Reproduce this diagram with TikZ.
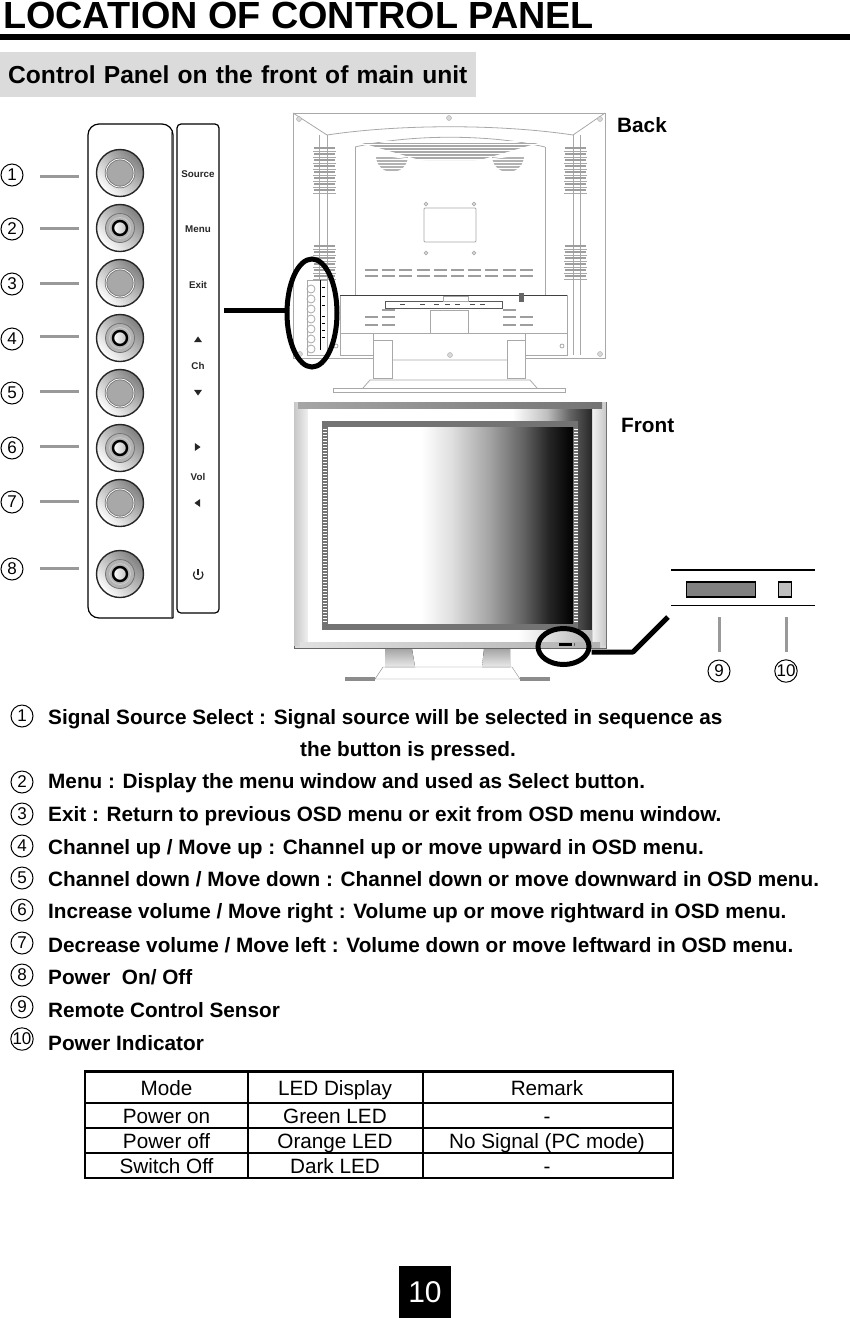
\documentclass[tikz,border=0pt]{standalone}
\usepackage{fontspec}
\setmainfont{Liberation Sans}
\usetikzlibrary{shapes.geometric}
\definecolor{btngrey}{HTML}{A8A8A8}
\definecolor{leadgrey}{HTML}{999999}
\definecolor{sketchgrey}{HTML}{A8A8A8}
\pgfdeclarehorizontalshading{screenfade}{100bp}{color(0bp)=(white);color(25bp)=(white);color(44bp)=(white);color(50bp)=(black!12);color(58bp)=(black!36);color(65bp)=(black!62);color(70bp)=(black!85);color(75bp)=(black);color(100bp)=(black)}
\pgfdeclarehorizontalshading{bezelfade}{100bp}{color(0bp)=(white);color(25bp)=(white);color(61bp)=(white);color(67bp)=(black!25);color(71bp)=(black!60);color(75bp)=(black!85);color(100bp)=(black!85)}
\pgfdeclarehorizontalshading{sillfade}{100bp}{color(0bp)=(white);color(25bp)=(white);color(62bp)=(white);color(75bp)=(black!30);color(100bp)=(black!30)}
\tikzset{
  numcirc/.style={circle,draw=black,line width=1pt,minimum size=22,inner sep=0,font=\fontsize{17}{17}\selectfont},
  bodytext/.style={anchor=base west,inner sep=0,font=\bfseries\fontsize{20.75}{24}\selectfont},
  tablecell/.style={anchor=base,inner sep=0,font=\fontsize{20.7}{24}\selectfont},
  striptext/.style={inner sep=0,text=black!85,font=\bfseries\fontsize{9.8}{12}\selectfont},
  striptip/.style={isosceles triangle,isosceles triangle apex angle=70,fill=black!85,inner sep=0,minimum size=5.6},
  leader/.style={leadgrey,line width=3pt},
  pointer/.style={line width=5pt,black},
  hoop/.style={ellipse,draw=black,line width=5pt,inner sep=0},
  sketch/.style={sketchgrey,line width=.8pt},
  vent/.style={black!38,line width=1.5pt},
  btn/.style={circle,draw=black!85,line width=1.4pt,minimum size=47,inner sep=0,shading=axis,left color=white,right color=black!50,shading angle=135},
  btnface/.style={circle,draw=black!55,line width=.8pt,fill=btngrey,double=white,double distance=.8pt,minimum size=28,inner sep=0},
  btnrim/.style={circle,draw=black!55,line width=.8pt,fill=black!30,minimum size=29,inner sep=0},
  btnknob/.style={circle,draw=black,line width=2.4pt,shading=axis,left color=white,right color=black!25,minimum size=14,inner sep=0}
}
\begin{document}
\begin{tikzpicture}[x=1pt,y=-1pt]
  \useasboundingbox (0,0) rectangle (850,1318);
  % heading
  \node (title) [anchor=base west,inner sep=0,font=\bfseries\fontsize{37.8}{40}\selectfont] at (3,28.5) {LOCATION OF CONTROL PANEL};
  \fill[black] (0,34) rectangle (850,40);
  \node (sub) [anchor=west,inner sep=0,fill=black!14,minimum height=45,text width=476,align=left,font=\bfseries\fontsize{24.6}{28}\selectfont] at (0,74.5) {\hspace*{8pt}Control Panel on the front of main unit};
  % control panel
  \draw[black,line width=1.2pt,rounded corners=11] (173,618) -- (88,618) -- (88,124) -- (173,124) -- (173,618);
  \draw[black!50,line width=1pt] (171.5,132) -- (171.5,617);
  \draw[black,line width=1.2pt,rounded corners=4] (177,124) rectangle (219,613);
  \begin{scope}[every node/.style={btn}]
    \node (b1) at (120,173) {};
    \node (b2) at (120,228) {};
    \node (b3) at (120,283) {};
    \node (b4) at (120,338) {};
    \node (b5) at (120,393) {};
    \node (b6) at (120,448) {};
    \node (b7) at (120,503) {};
    \node (b8) at (120,574) {};
  \end{scope}
  \foreach \n in {b1,b3,b5,b7} \node[btnface] at (\n) {};
  \foreach \n in {b2,b4,b6,b8} {
    \node[btnrim] at (\n) {};
    \draw[black!20,line width=.8pt] (\n) circle (10.5);
    \node[btnknob] at (\n) {};
  }
  \begin{scope}[every node/.style={striptext}]
    \node (source) at (198,174) {Source};
    \node (menu) at (198,229) {Menu};
    \node (exit) at (198,285) {Exit};
    \node (ch) at (198,366) {Ch};
    \node (vol) at (198,477) {Vol};
  \end{scope}
  \node[striptip,rotate=90] (chup) at (198,340) {};
  \node[striptip,rotate=-90] (chdown) at (198,392) {};
  \node[striptip] (volup) at (197,447) {};
  \node[striptip,rotate=180] (voldown) at (198,503) {};
  \draw[black!85,line width=1.2pt] (198,569) -- (198,575);
  \draw[black!85,line width=1.2pt] (194.5,571.5) arc[start angle=220,end angle=-40,radius=4.8];
  \begin{scope}[every node/.style={numcirc}]
    \node (n1) at (12,175) {1};
    \node (n2) at (12,229) {2};
    \node (n3) at (12,284) {3};
    \node (n4) at (12,339) {4};
    \node (n5) at (12,393) {5};
    \node (n6) at (12,448) {6};
    \node (n7) at (12,502) {7};
    \node (n8) at (12,569) {8};
    \node (n9) at (719,671) {9};
    \node (n10) at (786,671) {10};
    \node (k1) at (22,716) {1};
    \node (k2) at (22,782) {2};
    \node (k3) at (22,814) {3};
    \node (k4) at (22,846) {4};
    \node (k5) at (22,878) {5};
    \node (k6) at (22,910) {6};
    \node (k7) at (22,943) {7};
    \node (k8) at (22,975) {8};
    \node (k9) at (22,1007) {9};
    \node (k10) at (22,1039) {10};
  \end{scope}
  \foreach \y in {176,228,283,336,391,446,501,568} \draw[leader] (40,\y) -- (79,\y);
  % back of the monitor
  \draw[sketch] (293,113) rectangle (605,358);
  \draw[sketch] (293,113) -- (327,135) (605,113) -- (573,135);
  \draw[sketch] (327,135) .. controls (400,124) and (500,124) .. (573,135);
  \draw[sketch] (355,147) .. controls (410,134) and (490,134) .. (545,147);
  \draw[sketch] (355,147) -- (355,295) (545,147) -- (545,295);
  \draw[sketch] (319,135) -- (319,355) (327,135) -- (327,355) (573,135) -- (573,355) (580,135) -- (580,355);
  \fill[black!30] (376,156) arc[start angle=180,end angle=0,radius=16] -- cycle;
  \fill[black!30] (492,156) arc[start angle=180,end angle=0,radius=16] -- cycle;
  \fill[black!34] (362,143) -- (538,143) -- (480,160) -- (420,160) -- cycle;
  \foreach \y in {141.5,144.5,...,174} \draw[white,line width=.5pt] (362,\y) -- (538,\y);
  \draw[white,line width=1.2pt] (376,154) -- (430,162) (524,154) -- (470,162);
  \foreach \y in {148,154,...,193} {
    \draw[vent] (314,\y) -- (335,\y) (565,\y) -- (586,\y);
    \draw[sketch] (313,\y+3) -- (336,\y+3) (564,\y+3) -- (587,\y+3);
  }
  \foreach \y in {246,252,...,276} {
    \draw[vent] (314,\y) -- (335,\y) (565,\y) -- (586,\y);
    \draw[sketch] (313,\y+3) -- (336,\y+3) (564,\y+3) -- (587,\y+3);
  }
  \draw[sketch,rounded corners=1] (424,208) rectangle (476,242);
  \foreach \x/\y in {426/204,474/204,426/253,474/253} \draw[sketch] (\x,\y) circle (1.8);
  \foreach \x in {365,382.2,...,520} \draw[vent] (\x,270) -- +(13,0) (\x,276) -- +(13,0);
  \foreach \x in {365,382} \draw[vent] (\x,317) -- +(13,0) (\x,325) -- +(13,0);
  \foreach \x in {503,520} \draw[vent] (\x,317) -- +(13,0) (\x,325) -- +(13,0);
  \draw[vent] (382,310) -- +(13,0) (503,310) -- +(13,0);
  \draw[sketch] (340,295) rectangle (567,355);
  \draw[black!75,line width=1pt] (340,295) -- (567,295);
  \draw[black!65,line width=.9pt] (385,301) rectangle (502,308);
  \foreach \x in {400,420,434,445,455,470,480} \fill[black!70] (\x,303.5) rectangle +(5,1.5);
  \draw[sketch] (443,296) rectangle +(25,5);
  \fill[black!60] (519,293) rectangle (524,302);
  \draw[sketch] (430,310) rectangle (468,333);
  \draw[sketch] (341,333) -- (567,333);
  \fill[white] (373,333) rectangle (525,377);
  \draw[sketch] (373,333) -- (525,333) (373,333) -- (373,378) (525,333) -- (525,378);
  \draw[sketch] (373,340) rectangle (392,378);
  \draw[sketch] (507,340) rectangle (525,378);
  \draw[sketch] (392,360) -- (507,360) (363,388) -- (370,380) -- (530,380) -- (537,388);
  \draw[sketch] (333,388) rectangle (565,392);
  \foreach \x/\y in {299/119,449/118,600/119,450/355,300/354,600/354} \filldraw[draw=sketchgrey,fill=black!15] (\x,\y) circle (2.5);
  \foreach \x/\y in {336/346,562/346} \draw[sketch] (\x,\y) circle (2);
  \fill[white] (307,280) rectangle (327,355);
  \draw[sketch] (307,280) rectangle (327,355);
  \foreach \y in {289,299,...,339,349} \draw[sketch] (311,\y) circle (4);
  \draw[black,line width=.8pt] (320,280) -- (320,350);
  \foreach \y in {287,296,305,316,323,330,337} \fill[black] (322,\y) rectangle +(3,1);
  \node[hoop,minimum width=50,minimum height=108] (backring) at (312,313) {};
  \coordinate (panelend) at (224,310);
  \draw[pointer] (panelend) -- (panelend -| backring.west);
  \node (backlabel) [anchor=west,inner sep=0,font=\bfseries\fontsize{20.75}{24}\selectfont] at (617,125) {Back};
  % front of the monitor
  \fill[black!15] (294,402) rectangle (606,648);
  \draw[black!60,line width=.8pt] (294,402) rectangle (606,648);
  \fill[left color=black!22,right color=black!6] (294,402) rectangle (308,645);
  \fill[left color=black!5,right color=black!22] (592,402) rectangle (606,645);
  \shade[shading=bezelfade] (308,408) rectangle (592,642);
  \shade[shading=sillfade] (308,630) rectangle (592,642);
  \fill[left color=black!35,right color=black!55] (298,402) rectangle (602,408);
  \fill[black!55] (322,421) rectangle (578,630);
  \shade[shading=screenfade] (328,427) rectangle (573,623);
  \foreach \y in {429,432,...,621} {
    \draw[white,line width=.9pt] (323,\y) -- (327,\y);
    \draw[white,line width=.9pt] (574,\y) -- (577.5,\y);
  }
  \fill[left color=black!12,right color=black!30] (300,642) rectangle (600,647);
  \fill[top color=black!35,bottom color=black!8] (385,649) -- (412,649) -- (415,667) -- (385,667) -- cycle;
  \fill[top color=black!35,bottom color=black!8] (484,649) -- (510,649) -- (510,667) -- (482,667) -- cycle;
  \draw[black!50] (375,679) -- (383,667) -- (512,667) -- (520,679) -- cycle;
  \fill[black!45] (345,676.5) rectangle (375,681);
  \fill[black!45] (520,676.5) rectangle (550,681);
  \fill[black] (559,643) rectangle (572,646);
  \fill[black!60] (574,643) rectangle (575,646);
  \node[hoop,minimum width=51,minimum height=36] (frontring) at (563.5,646.5) {};
  \coordinate (bendfront) at (633,652);
  \coordinate (zoomend) at (668,617);
  \draw[pointer,line join=bevel] (bendfront -| frontring.east) -- (bendfront) -- (zoomend);
  \node (frontlabel) [anchor=west,inner sep=0,font=\bfseries\fontsize{20.75}{24}\selectfont] at (621,425) {Front};
  % detail of sensor and lamp
  \draw[black,line width=2pt] (671,570) -- (815,570);
  \draw[black,line width=1pt] (671,605) -- (815,605);
  \node (sensor) [draw=black,line width=1.5pt,fill=black!50,minimum width=69,minimum height=15,inner sep=0] at (721,589.5) {};
  \node (lamp) [draw=black,line width=1.5pt,fill=black!25,minimum width=13,minimum height=15,inner sep=0] at (785,589.5) {};
  \coordinate (sensorlead) at (719,617);
  \coordinate (lamplead) at (786,617);
  \draw[leader] (sensorlead) -- ++(0,35);
  \draw[leader] (lamplead) -- ++(0,35);
  % key to the numbers
  \begin{scope}[every node/.style={bodytext}]
    \node (t1) at (48,724) {Signal Source Select : Signal source will be selected in sequence as};
    \node (t1b) at (300,756) {the button is pressed.};
    \node (t2) at (48,788) {Menu : Display the menu window and used as Select button.};
    \node (t3) at (48,821) {Exit : Return to previous OSD menu or exit from OSD menu window.};
    \node (t4) at (48,854) {Channel up / Move up : Channel up or move upward in OSD menu.};
    \node (t5) at (48,886) {Channel down / Move down : Channel down or move downward in OSD menu.};
    \node (t6) at (48,918) {Increase volume / Move right : Volume up or move rightward in OSD menu.};
    \node (t7) at (48,952) {Decrease volume / Move left : Volume down or move leftward in OSD menu.};
    \node (t8) at (48,984) {Power\ \ On/ Off};
    \node (t9) at (48,1017) {Remote Control Sensor};
    \node (t10) at (48,1050) {Power Indicator};
  \end{scope}
  % table
  \draw[black,line width=2.5pt] (84,1071.5) -- (674,1071.5);
  \draw[black,line width=1.5pt] (85,1103) -- (673,1103) (85,1128) -- (673,1128) (85,1153) -- (673,1153) (84,1178) -- (674,1178);
  \draw[black,line width=1.5pt] (85,1071) -- (85,1178) (248,1071) -- (248,1178) (423,1071) -- (423,1178) (673,1071) -- (673,1178);
  \begin{scope}[every node/.style={tablecell}]
    \node (m0) at (166.5,1095) {Mode};
    \node (d0) at (335,1095) {LED Display};
    \node (r0) at (547,1095) {Remark};
    \node (m1) at (166.5,1123) {Power on};
    \node (d1) at (335,1123) {Green LED};
    \node (r1) at (547,1123) {-};
    \node (m2) at (166.5,1148) {Power off};
    \node (d2) at (335,1148) {Orange LED};
    \node (r2) at (547,1148) {No Signal (PC mode)};
    \node (m3) at (166.5,1173) {Switch Off};
    \node (d3) at (335,1173) {Dark LED};
    \node (r3) at (547,1173) {-};
  \end{scope}
  % page number
  \node (page) [fill=black,text=white,minimum size=52,inner sep=0,font=\fontsize{30}{32}\selectfont] at (425,1292) {10};
\end{tikzpicture}
\end{document}
